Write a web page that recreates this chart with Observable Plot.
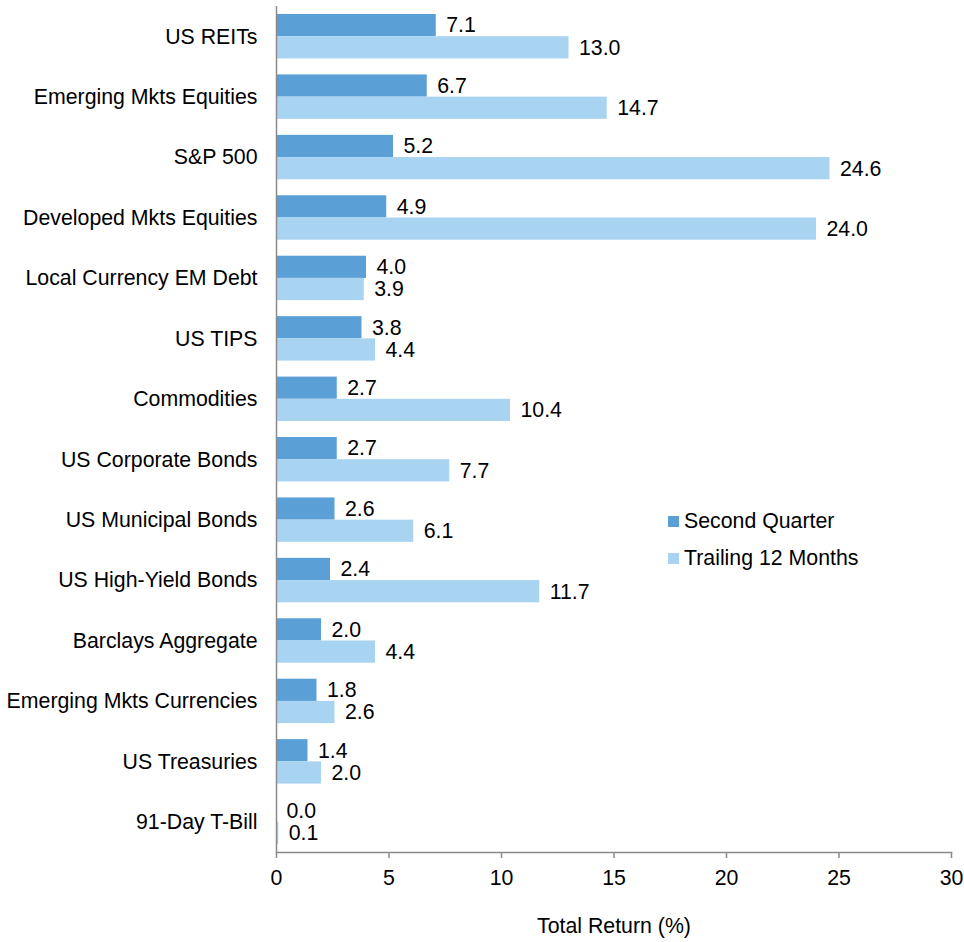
<!DOCTYPE html>
<html><head><meta charset="utf-8">
<script src="https://cdn.jsdelivr.net/npm/d3@7"></script>
<script src="https://cdn.jsdelivr.net/npm/@observablehq/plot@0.6"></script>
<style>
body{margin:0;background:#fff;font-family:"Liberation Sans",Arial,sans-serif;}
#wrap{position:relative;width:964px;height:942px;}
#legend{position:absolute;left:668px;top:503px;font-size:21.3px;color:#000;line-height:1;}
.item{display:flex;align-items:center;height:37px;}
.sw{width:11px;height:11px;margin-right:5px;}
svg text{fill:#000;}
</style></head><body>
<div id="wrap"><div id="chart"></div><div id="legend"></div></div>
<script>
const categories = ["US REITs","Emerging Mkts Equities","S&P 500","Developed Mkts Equities","Local Currency EM Debt","US TIPS","Commodities","US Corporate Bonds","US Municipal Bonds","US High-Yield Bonds","Barclays Aggregate","Emerging Mkts Currencies","US Treasuries","91-Day T-Bill"];
const secondQuarter = [7.1,6.7,5.2,4.9,4.0,3.8,2.7,2.7,2.6,2.4,2.0,1.8,1.4,0.0];
const trailing12 = [13.0,14.7,24.6,24.0,3.9,4.4,10.4,7.7,6.1,11.7,4.4,2.6,2.0,0.1];
const seriesNames = ["Second Quarter","Trailing 12 Months"];
const seriesColors = ["#5A9FD6","#A8D4F2"];
const xTicks = [0,5,10,15,20,25,30];
const xTitle = "Total Return (%)";

const W = 964, H = 942, mt = 6, mb = 90, pad = 0.265;
const step = (H - mt - mb) / categories.length;
const bw = step * (1 - pad);
const rows = categories.map((c, i) => ({cat: c, q: secondQuarter[i], t: trailing12[i]}));
const font = '"Liberation Sans", Arial, sans-serif';

const chart = Plot.plot({
  width: W, height: H,
  marginLeft: 276, marginRight: 13, marginTop: mt, marginBottom: mb,
  style: {fontFamily: font, fontSize: "21.3px", color: "#000", background: "#fff"},
  x: {domain: [0, 30]},
  y: {domain: categories, paddingInner: pad, paddingOuter: pad / 2, round: false, tickSize: 0, tickPadding: 19, label: null},
  marks: [
    Plot.barX(rows, {y: "cat", x: "q", fill: seriesColors[0], insetBottom: bw / 2}),
    Plot.barX(rows, {y: "cat", x: "t", fill: seriesColors[1], insetTop: bw / 2}),
    Plot.text(rows, {y: "cat", x: "q", text: d => d.q.toFixed(1), dx: 10, dy: -bw / 4, textAnchor: "start", fill: "#000"}),
    Plot.text(rows, {y: "cat", x: "t", text: d => d.t.toFixed(1), dx: 10, dy: bw / 4, textAnchor: "start", fill: "#000"}),
    Plot.ruleX([0], {stroke: "#8a8a8a", strokeWidth: 1.5}),
    Plot.frame({anchor: "bottom", stroke: "#8a8a8a", strokeWidth: 1.5}),
    Plot.axisX({ticks: xTicks, tickSize: 6, tickPadding: 11, stroke: "#8a8a8a", strokeWidth: 1.5,
      label: xTitle, labelArrow: "none", labelAnchor: "center", labelOffset: 80})
  ]
});
document.getElementById("chart").appendChild(chart);

const legend = document.getElementById("legend");
seriesNames.forEach((n, i) => {
  const it = document.createElement("div");
  it.className = "item";
  const sw = document.createElement("span");
  sw.className = "sw";
  sw.style.background = seriesColors[i];
  const tx = document.createElement("span");
  tx.textContent = n;
  it.appendChild(sw); it.appendChild(tx);
  legend.appendChild(it);
});
</script>
</body></html>
